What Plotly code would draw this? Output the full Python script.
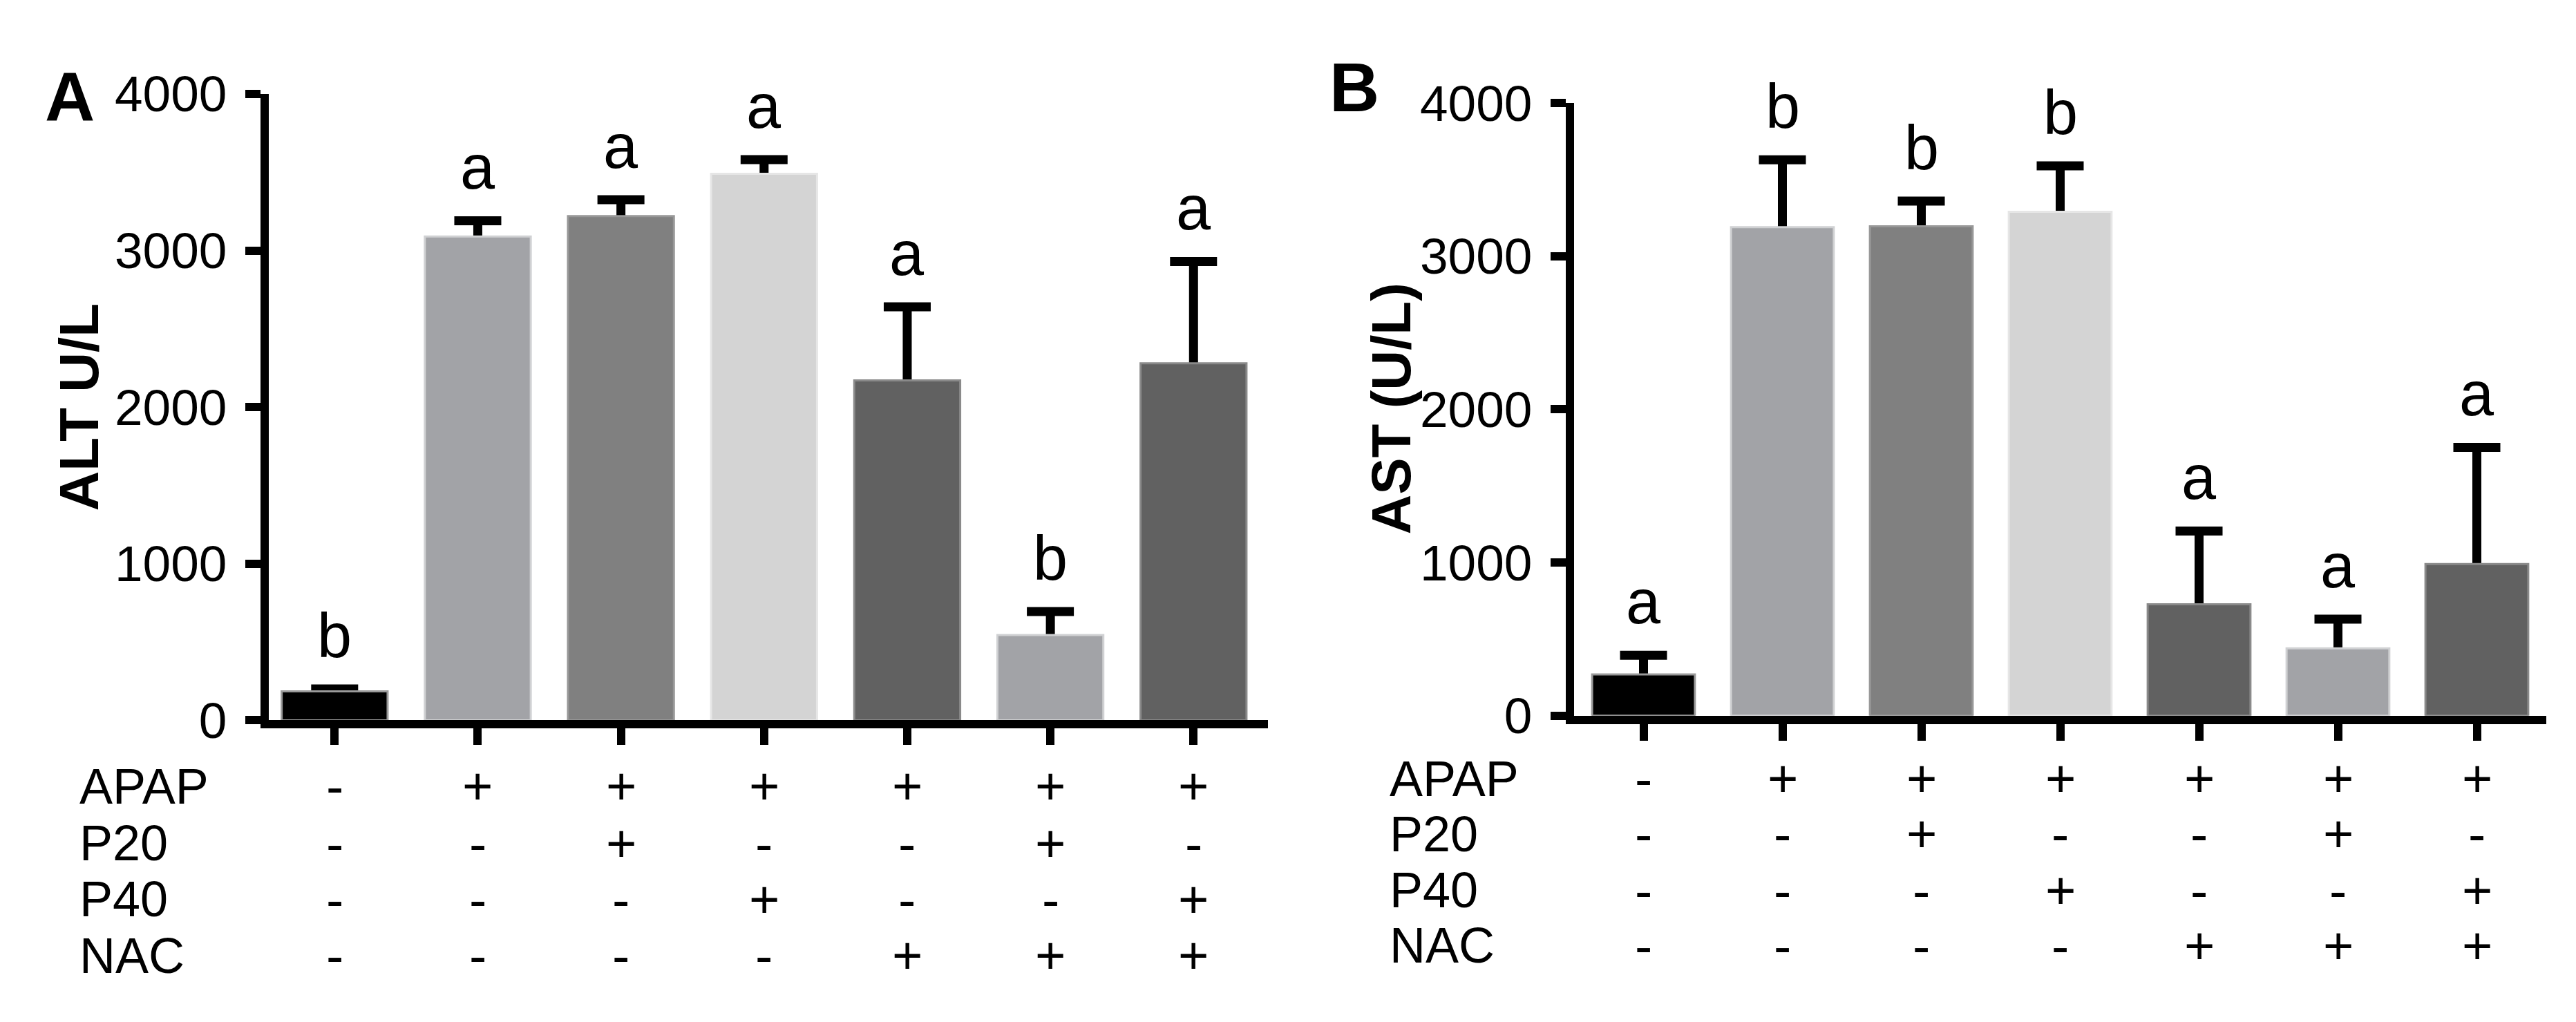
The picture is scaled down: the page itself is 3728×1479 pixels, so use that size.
import plotly.graph_objects as go

# groups (x categories)
groups = ["Ctrl", "APAP", "APAP+P20", "APAP+P40", "APAP+NAC", "APAP+P20+NAC", "APAP+P40+NAC"]

# panel A: ALT
alt_mean = [185, 3090, 3220, 3490, 2170, 545, 2280]
alt_sem = [15, 100, 105, 90, 470, 150, 650]
alt_letters = ["b", "a", "a", "a", "a", "b", "a"]

# panel B: AST
ast_mean = [270, 3190, 3195, 3290, 728, 440, 990]
ast_sem = [125, 440, 165, 300, 478, 190, 762]
ast_letters = ["a", "b", "b", "b", "a", "a", "a"]

# treatment table under the bars
row_names = ["APAP", "P20", "P40", "NAC"]
row_signs = [
    ["-", "+", "+", "+", "+", "+", "+"],
    ["-", "-", "+", "-", "-", "+", "-"],
    ["-", "-", "-", "+", "-", "-", "+"],
    ["-", "-", "-", "-", "+", "+", "+"],
]

y_ticks = [0, 1000, 2000, 3000, 4000]
bar_colors = ["#000000", "#a2a3a7", "#808080", "#d4d4d4", "#616161", "#a2a3a7", "#616161"]
edge_colors = ["#9a9a9a", "#d0d1d3", "#989898", "#e6e6e6", "#8a8a8a", "#d0d1d3", "#8a8a8a"]

W, H = 3728, 1479
FONT = "Liberation Sans, Arial, sans-serif"

fig = go.Figure()

for mean, sem, xa, ya in [(alt_mean, alt_sem, "x", "y"), (ast_mean, ast_sem, "x2", "y2")]:
    # error bars sit in a hidden bar trace underneath, so only the upper whisker shows
    fig.add_trace(go.Bar(
        x=groups, y=mean, xaxis=xa, yaxis=ya,
        marker=dict(color="rgba(0,0,0,0)", line=dict(width=0)),
        error_y=dict(type="data", array=sem, arrayminus=[m / 2 for m in mean], symmetric=False,
                     color="black", thickness=13, width=34),
        showlegend=False, hoverinfo="skip",
    ))
    fig.add_trace(go.Bar(
        x=groups, y=mean, xaxis=xa, yaxis=ya,
        marker=dict(color=bar_colors, line=dict(color=edge_colors, width=3)),
        showlegend=False,
    ))

axis_common = dict(showline=True, linecolor="black", linewidth=12, ticks="outside",
                   tickcolor="black", tickwidth=12, showgrid=False, zeroline=False)

fig.update_layout(
    width=W, height=H,
    margin=dict(l=0, r=0, t=0, b=0),
    paper_bgcolor="white", plot_bgcolor="white",
    barmode="overlay", bargap=0.26,
    font=dict(family=FONT, color="black"),
    xaxis=dict(domain=[381 / W, 1827 / W], anchor="y", type="category", range=[-0.46, 6.52],
               showticklabels=False, ticklen=24, **axis_common),
    yaxis=dict(domain=[1 - 1052 / H, 1 - 93 / H], anchor="x", range=[0, 4000], tickvals=y_ticks,
               ticklen=22, ticklabelstandoff=12, tickfont=dict(size=73), **axis_common),
    xaxis2=dict(domain=[2270 / W, 3677 / W], anchor="y2", type="category", range=[-0.5, 6.5],
                showticklabels=False, ticklen=24, **axis_common),
    yaxis2=dict(domain=[1 - 1045 / H, 1 - 107 / H], anchor="x2", range=[0, 4000], tickvals=y_ticks,
                ticklen=22, ticklabelstandoff=12, tickfont=dict(size=73), **axis_common),
)

ann = []

# significance letters over error bars
for mean, sem, letters, xa, ya in [(alt_mean, alt_sem, alt_letters, "x", "y"),
                                   (ast_mean, ast_sem, ast_letters, "x2", "y2")]:
    for g, m, s, t in zip(groups, mean, sem, letters):
        ann.append(dict(x=g, y=m + s, xref=xa, yref=ya, text=t, showarrow=False,
                        xanchor="center", yanchor="bottom", yshift=25, font=dict(size=90)))

# panel letters and y titles
ann.append(dict(x=93 / W, y=1 - 97 / H, xref="paper", yref="paper", text="<b>A</b>",
                xanchor="center", yanchor="middle", showarrow=False, font=dict(size=100)))
ann.append(dict(x=1952 / W, y=1 - 83 / H, xref="paper", yref="paper", text="<b>B</b>",
                xanchor="center", yanchor="middle", showarrow=False, font=dict(size=100)))
ann.append(dict(x=107 / W, y=1 - 573 / H, xref="paper", yref="paper", text="<b>ALT U/L</b>",
                xanchor="center", yanchor="middle", textangle=-90, showarrow=False,
                font=dict(size=80)))
ann.append(dict(x=2006 / W, y=1 - 575 / H, xref="paper", yref="paper", text="<b>AST (U/L)</b>",
                xanchor="center", yanchor="middle", textangle=-90, showarrow=False,
                font=dict(size=80)))

# treatment table
rows_a = [1153, 1240, 1326, 1412]
rows_b = [1141, 1226, 1312, 1397]
for label_x, xa, rows in [(105, "x", rows_a), (2001, "x2", rows_b)]:
    for name, signs, ry in zip(row_names, row_signs, rows):
        ann.append(dict(x=label_x / W, y=1 - ry / H, xref="paper", yref="paper", text=name,
                        xanchor="left", yanchor="middle", showarrow=False, font=dict(size=72)))
        for g, sgn in zip(groups, signs):
            ann.append(dict(x=g, y=1 - ry / H, xref=xa, yref="paper", text=sgn,
                            xanchor="center", yanchor="middle", showarrow=False,
                            font=dict(size=76)))

fig.update_layout(annotations=ann)
fig.write_html("out.html")
